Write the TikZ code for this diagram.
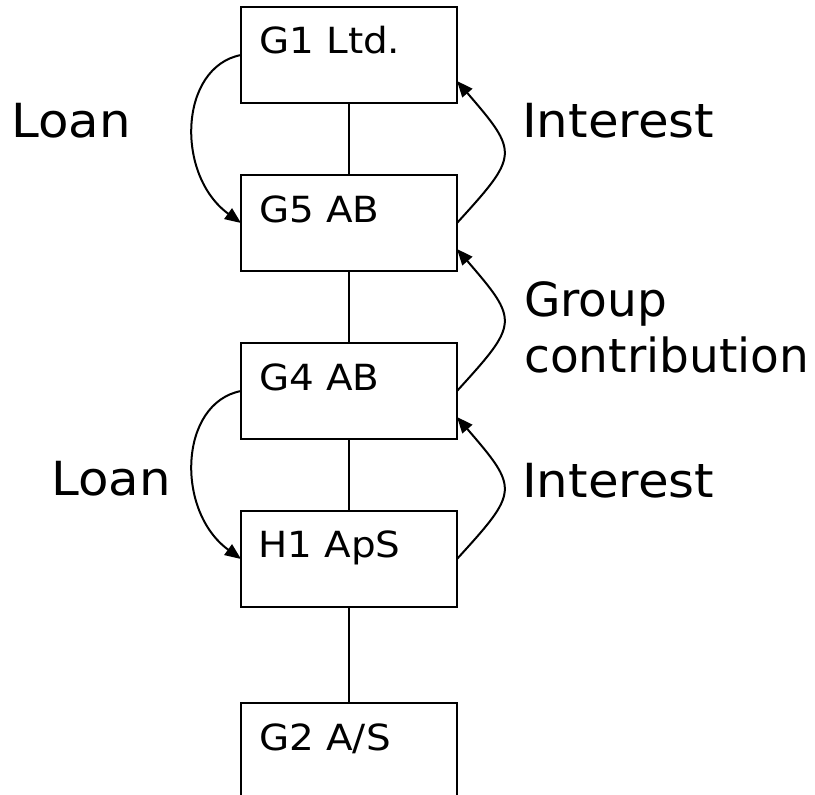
\documentclass[tikz,border=0pt]{standalone}
\usepackage{fontspec}
\setmainfont{DejaVu Sans}
\newfontfamily\boxfont[FakeStretch=1.08]{DejaVu Sans}
\newfontfamily\labelfont[FakeStretch=1.06]{DejaVu Sans}
\usetikzlibrary{arrows.meta,calc}
\begin{document}
\begin{tikzpicture}[x=1pt,y=-1pt,
  company/.style={draw, line width=2pt, minimum width=216pt, minimum height=96pt,
    inner sep=0pt, outer sep=0pt, anchor=north west},
  firmname/.style={anchor=base west, inner sep=0pt, font=\boxfont\fontsize{36}{40}\selectfont},
  flowlabel/.style={anchor=base west, inner sep=0pt, align=left,
    font=\labelfont\fontsize{47}{56}\selectfont},
  link/.style={line width=2pt},
  flow/.style={line width=2pt, -{Triangle[length=16pt,width=13pt]}}]
\useasboundingbox (0,0) rectangle (815,795);
\clip (0,0) rectangle (815,795);

% ownership chain
\node[company] (g1) at (241,7) {};
\node[company] (g5) at (241,175) {};
\node[company] (g4) at (241,343) {};
\node[company] (h1) at (241,511) {};
\node[company] (g2) at (241,703) {};

\node[firmname] (g1n) at (259,53) {G1 Ltd.};
\node[firmname] (g5n) at (259,222) {G5 AB};
\node[firmname] (g4n) at (259,390) {G4 AB};
\node[firmname] (h1n) at (258,557) {H1 ApS};
\node[firmname] (g2n) at (259,750) {G2 A/S};

\draw[link] (g1) -- (g5);
\draw[link] (g5) -- (g4);
\draw[link] (g4) -- (h1);
\draw[link] (h1) -- (g2);

% entry points of the upward flows
\coordinate (g1in) at ($(g1.east)+(0,26)$);
\coordinate (g5in) at ($(g5.east)+(0,26)$);
\coordinate (g4in) at ($(g4.east)+(0,26)$);

% loans go down on the left
\draw[flow] (g1.west) .. controls +(-62,12) and +(-66,-48) .. (g5.west);
\draw[flow] (g4.west) .. controls +(-62,12) and +(-66,-48) .. (h1.west);

% interest and contributions go up on the right
\draw[flow] (g5.east) .. controls +(62,-68) and +(62,72) .. (g1in);
\draw[flow] (g4.east) .. controls +(62,-68) and +(62,72) .. (g5in);
\draw[flow] (h1.east) .. controls +(62,-68) and +(62,72) .. (g4in);

\node[flowlabel] (loan1) at (11,137) {Loan};
\node[flowlabel] (int1) at (522,137) {Interest};
\node[flowlabel, font=\fontsize{47}{56}\selectfont] (grp) at (524,372) {Group\\contribution};
\node[flowlabel] (loan2) at (51,495) {Loan};
\node[flowlabel] (int2) at (522,497) {Interest};
\end{tikzpicture}
\end{document}
